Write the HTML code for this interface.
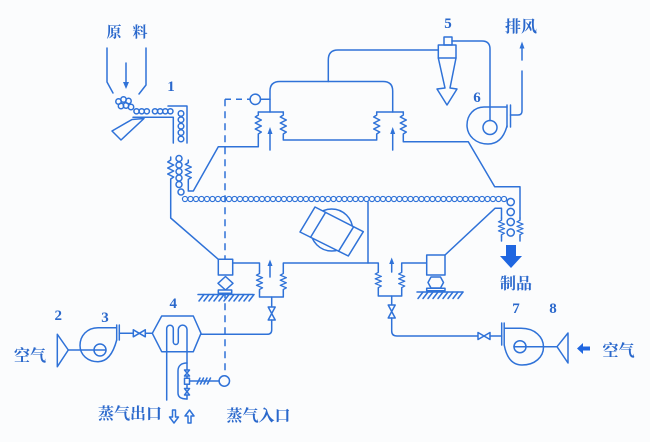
<!DOCTYPE html>
<html>
<head>
<meta charset="utf-8">
<style>
html,body{margin:0;padding:0;background:#fbfcfd;overflow:hidden;}
svg{display:block;}
.d{font-family:"Liberation Serif",serif;font-weight:bold;font-size:15px;fill:#2a68cc;}
.c{font-family:"Liberation Serif","Noto Serif CJK SC","Noto Sans CJK SC",serif;font-weight:bold;font-size:16px;fill:#2a68cc;}
</style>
</head>
<body>
<svg width="650" height="442" viewBox="0 0 650 442" xmlns="http://www.w3.org/2000/svg">
<defs>
<polyline id="sp" points="0,0 0,3 -3,5 3,8 -3,11 3,14 -3,17 3,20 0,22 0,25" fill="none"/>
</defs>
<rect width="650" height="442" fill="#fbfcfd"/>
<g stroke="#2f72d8" stroke-width="1.5" fill="none" stroke-linejoin="round" stroke-linecap="round">

<!-- hopper -->
<path d="M107,48 V82 L113,93"/>
<path d="M146,48 V85 L139,94"/>
<line x1="126" y1="63" x2="126" y2="83"/>
<!-- cluster -->
<circle cx="118.5" cy="101.5" r="2.7"/><circle cx="123.5" cy="99.5" r="2.7"/><circle cx="128.5" cy="101" r="2.7"/>
<circle cx="121" cy="106" r="2.7"/><circle cx="126" cy="105.5" r="2.7"/><circle cx="131" cy="107" r="2.7"/>
<circle cx="136.5" cy="111.3" r="2.6"/><circle cx="141.7" cy="111.3" r="2.6"/><circle cx="146.8" cy="111.3" r="2.6"/>
<circle cx="155" cy="111.3" r="2.6"/><circle cx="160.2" cy="111.3" r="2.6"/><circle cx="165.3" cy="111.3" r="2.6"/><circle cx="170.4" cy="111.3" r="2.6"/>
<circle cx="181" cy="113.5" r="2.8"/><circle cx="181" cy="119.8" r="2.8"/><circle cx="181" cy="126.2" r="2.8"/><circle cx="181" cy="132.6" r="2.8"/><circle cx="181" cy="139" r="2.8"/>
<path d="M168,106 H187 V143"/>
<path d="M133,117.3 H173.3 V143"/>
<path d="M112,131 L132,119.5 L144,118.5 L121,140 Z"/>

<!-- feeder second section -->
<use href="#sp" transform="translate(170.7,157)"/>
<use href="#sp" transform="translate(188.3,160) scale(1,0.88)"/>
<circle cx="179" cy="158.5" r="3"/><circle cx="179" cy="165" r="3"/><circle cx="179" cy="171.5" r="3"/><circle cx="179" cy="178" r="3"/><circle cx="179" cy="184.5" r="3"/><circle cx="181" cy="192" r="3"/>
<path d="M170.7,182 V218 L218.3,259.3"/>
<path d="M188.3,182 V191 H193.3 L218.3,146.7 H258.3 V137"/>

<!-- top spring groups -->
<use href="#sp" transform="translate(258.3,112)"/>
<use href="#sp" transform="translate(283.3,112)"/>
<use href="#sp" transform="translate(376.7,112)"/>
<use href="#sp" transform="translate(403.3,112)"/>
<path d="M258.3,112 H283.3"/>
<path d="M376.7,112 H403.3"/>
<path d="M283.3,137 V140 H376.7 V137"/>
<path d="M403.3,137 V141.7 H468.3 L494.7,186.7 H520 V218"/>
<use href="#sp" transform="translate(520,218) scale(1,0.76)"/>
<path d="M520,237 V241"/>

<!-- ducts -->
<path d="M270,112 V91 Q270,81.5 280,81.5 H383 Q392.7,81.5 392.7,91 V112"/>
<path d="M328.3,81.5 V60 Q328.3,50 338,50 H438.3"/>
<!-- cyclone -->
<rect x="444" y="37" width="8" height="8"/>
<rect x="438.3" y="45" width="17.7" height="13"/>
<path d="M438.3,58 L445,88 L437,89 L447,105 L457,89 L450,88 L456,58"/>
<path d="M452,41 H482 Q490,41 490,49 V120.5"/>
<!-- fan 6 -->
<circle cx="490" cy="127.5" r="7"/>
<path d="M507,107 H484 C474,107 467,115 467,125 C467,136 476,144 488,144 C498,144 504,137 507,126"/>
<line x1="507" y1="105" x2="507" y2="127"/>
<line x1="510.5" y1="105" x2="510.5" y2="127"/>
<path d="M510.5,115 H518 Q522,115 522,111 V71"/>
<line x1="522" y1="60" x2="522" y2="48"/>

<!-- dashed -->
<line x1="225" y1="99.3" x2="225" y2="375.5" stroke-dasharray="7,5" stroke-linecap="butt"/>
<line x1="225" y1="99.3" x2="250" y2="99.3" stroke-dasharray="6,5" stroke-linecap="butt"/>
<circle cx="255.3" cy="99.3" r="5.2"/>
<line x1="260.5" y1="99.3" x2="270" y2="99.3"/>

<!-- top arrows -->
<line x1="270" y1="150" x2="270" y2="133"/>
<line x1="392.7" y1="150" x2="392.7" y2="133"/>

<!-- conveyor -->
<g stroke-width="1.2">
<circle cx="185" cy="199" r="2.55"/><circle cx="190.5" cy="199" r="2.55"/><circle cx="196" cy="199" r="2.55"/><circle cx="201.5" cy="199" r="2.55"/><circle cx="207" cy="199" r="2.55"/><circle cx="212.5" cy="199" r="2.55"/><circle cx="218" cy="199" r="2.55"/><circle cx="223.5" cy="199" r="2.55"/><circle cx="229" cy="199" r="2.55"/><circle cx="234.5" cy="199" r="2.55"/>
<circle cx="240" cy="199" r="2.55"/><circle cx="245.5" cy="199" r="2.55"/><circle cx="251" cy="199" r="2.55"/><circle cx="256.5" cy="199" r="2.55"/><circle cx="262" cy="199" r="2.55"/><circle cx="267.5" cy="199" r="2.55"/><circle cx="273" cy="199" r="2.55"/><circle cx="278.5" cy="199" r="2.55"/><circle cx="284" cy="199" r="2.55"/><circle cx="289.5" cy="199" r="2.55"/>
<circle cx="295" cy="199" r="2.55"/><circle cx="300.5" cy="199" r="2.55"/><circle cx="306" cy="199" r="2.55"/><circle cx="311.5" cy="199" r="2.55"/><circle cx="317" cy="199" r="2.55"/><circle cx="322.5" cy="199" r="2.55"/><circle cx="328" cy="199" r="2.55"/><circle cx="333.5" cy="199" r="2.55"/><circle cx="339" cy="199" r="2.55"/><circle cx="344.5" cy="199" r="2.55"/>
<circle cx="350" cy="199" r="2.55"/><circle cx="355.5" cy="199" r="2.55"/><circle cx="361" cy="199" r="2.55"/><circle cx="366.5" cy="199" r="2.55"/><circle cx="372" cy="199" r="2.55"/><circle cx="377.5" cy="199" r="2.55"/><circle cx="383" cy="199" r="2.55"/><circle cx="388.5" cy="199" r="2.55"/><circle cx="394" cy="199" r="2.55"/><circle cx="399.5" cy="199" r="2.55"/>
<circle cx="405" cy="199" r="2.55"/><circle cx="410.5" cy="199" r="2.55"/><circle cx="416" cy="199" r="2.55"/><circle cx="421.5" cy="199" r="2.55"/><circle cx="427" cy="199" r="2.55"/><circle cx="432.5" cy="199" r="2.55"/><circle cx="438" cy="199" r="2.55"/><circle cx="443.5" cy="199" r="2.55"/><circle cx="449" cy="199" r="2.55"/><circle cx="454.5" cy="199" r="2.55"/>
<circle cx="460" cy="199" r="2.55"/><circle cx="465.5" cy="199" r="2.55"/><circle cx="471" cy="199" r="2.55"/><circle cx="476.5" cy="199" r="2.55"/><circle cx="482" cy="199" r="2.55"/><circle cx="487.5" cy="199" r="2.55"/><circle cx="493" cy="199" r="2.55"/><circle cx="498.5" cy="199" r="2.55"/><circle cx="504" cy="199" r="2.55"/>
</g>
<circle cx="510.7" cy="202" r="3.6"/><circle cx="510.7" cy="212" r="3.6"/><circle cx="510.7" cy="222" r="3.6"/><circle cx="510.7" cy="232.5" r="3.6"/>

<!-- frame vertical -->
<path d="M368,202 V263"/>

<!-- rotating drive -->
<circle cx="331.7" cy="230" r="21"/>
<polygon points="300,232 315,207 363.3,231.7 348.3,256" fill="#fbfcfd"/>
<line x1="325.6" y1="212.4" x2="310.6" y2="237.3"/>
<line x1="353.6" y1="226.8" x2="338.6" y2="251.2"/>

<!-- left vibrator support -->
<rect x="218.3" y="259.3" width="14.4" height="15.7" fill="#fbfcfd"/>
<polygon points="225.5,276.5 233,283.3 225.5,290 218,283.3" fill="#fbfcfd"/>
<rect x="218.3" y="290" width="13.4" height="3.3" fill="#fbfcfd"/>
<path d="M198,294.5 H253"/>
<path d="M204,294.5 L199,301 M209,294.5 L204,301 M214,294.5 L209,301 M219,294.5 L214,301 M224,294.5 L219,301 M229,294.5 L224,301 M234,294.5 L229,301 M239,294.5 L234,301 M244,294.5 L239,301 M249,294.5 L244,301 M254,294.5 L249,301"/>

<!-- bottom spring groups -->
<path d="M232.7,263 H259.5 V271"/>
<use href="#sp" transform="translate(259.5,271) scale(1,0.84)"/>
<path d="M259.5,292 V297 H283.3 V292"/>
<use href="#sp" transform="translate(283.3,271) scale(1,0.84)"/>
<path d="M283.3,271 V263 H378.3 V270"/>
<use href="#sp" transform="translate(378.3,270) scale(1,0.8)"/>
<path d="M378.3,290 V296 H401.7 V290"/>
<use href="#sp" transform="translate(401.7,270) scale(1,0.8)"/>
<path d="M401.7,270 V263 H426.7"/>
<line x1="270" y1="277" x2="270" y2="265"/>
<line x1="391.7" y1="272" x2="391.7" y2="263"/>

<!-- right vibrator support -->
<rect x="426.7" y="255" width="18.3" height="20" fill="#fbfcfd"/>
<polygon points="431,277 440.5,277 443.5,282.5 440.5,288 431,288 428,282.5" fill="#fbfcfd"/>
<rect x="426.7" y="288.3" width="18.3" height="2.4" fill="#fbfcfd"/>
<path d="M417,292 H463"/>
<path d="M423,292 L418,298.5 M428,292 L423,298.5 M433,292 L428,298.5 M438,292 L433,298.5 M443,292 L438,298.5 M448,292 L443,298.5 M453,292 L448,298.5 M458,292 L453,298.5 M463,292 L458,298.5"/>
<path d="M445,255 L495,208.3 H501.5 V218"/>
<use href="#sp" transform="translate(501.5,218) scale(1,0.76)"/>
<path d="M501.5,237 V241"/>

<!-- left valve line -->
<path d="M271.7,297 V307"/>
<path d="M268.2,307 H275.2 L268.2,320 H275.2 Z" fill="#fbfcfd"/>
<path d="M271.7,320 V330 Q271.7,334.3 267,334.3 H201"/>
<!-- right valve line -->
<path d="M391.7,296 V305"/>
<path d="M388.2,305 H395.2 L388.2,318 H395.2 Z" fill="#fbfcfd"/>
<path d="M391.7,318 V331 Q391.7,336 397,336 H478"/>
<path d="M478,332.5 V339.5 L490,332.5 V339.5 Z" fill="#fbfcfd"/>
<path d="M490,336 H501.7"/>
<line x1="501.7" y1="323" x2="501.7" y2="345"/>
<line x1="504.2" y1="323" x2="504.2" y2="345"/>

<!-- fan 7 -->
<circle cx="520" cy="346.7" r="6"/>
<path d="M504.2,328.3 H521 C535,328.3 543.5,337 543.5,347 C543.5,357 535,365 522,365 C514,365 507,360 504.2,345"/>
<line x1="514" y1="346.7" x2="557" y2="346.7"/>
<path d="M557,346.7 L568,333 V363 Z"/>

<!-- fan 3 / horn 2 -->
<path d="M68.3,350 L57.3,334.3 V366.7 Z"/>
<line x1="68.3" y1="350" x2="106" y2="350"/>
<circle cx="100" cy="350" r="6"/>
<path d="M116.7,327.7 H98 C87,327.7 80,336 80,345.5 C80,355 88,361.7 98,361.7 C107,361.7 113,354 116.7,340"/>
<line x1="116.7" y1="325" x2="116.7" y2="340"/>
<line x1="119.3" y1="325" x2="119.3" y2="340"/>
<path d="M119.3,333.3 H133.3"/>
<path d="M133.3,329.8 V336.8 L145.3,329.8 V336.8 Z" fill="#fbfcfd"/>
<path d="M145.3,333.3 H152.3"/>

<!-- heat exchanger 4 -->
<polygon points="152.3,333.3 161.7,316 193.3,316 201,333.3 193.3,351.7 161.7,351.7"/>
<path d="M166.7,400 V328.5 A3.3,3.3 0 0 1 173.3,328.5 V342 A2.5,2.5 0 0 0 178.3,342 V329.5 A4.35,4.35 0 0 1 187,329.5 V399"/>
<path d="M187,363 C181,363 178,366 178,371 V393 C178,397 181,399 187,399"/>
<path d="M184.5,370 H189.5 L184.5,376 H189.5 Z" fill="#fbfcfd"/>
<rect x="184.5" y="378.3" width="5" height="6" fill="#fbfcfd"/>
<path d="M184.5,388.5 H189.5 L184.5,395 H189.5 Z" fill="#fbfcfd"/>
<path d="M190,381 H219.1"/>
<path d="M197,384 L200,378 M200.5,384 L203.5,378 M204,384 L207,378 M207.5,384 L210.5,378"/>
<circle cx="224.3" cy="381" r="5.2"/>
<path d="M172.5,410 H175.5 V417 H178.5 L174,423 L169.5,417 H172.5 Z"/>
<path d="M188,423 H191 V416 H194 L189.5,410 L185,416 H188 Z"/>
</g>

<!-- filled arrowheads -->
<g fill="#2f72d8">
<polygon points="123,82 129,82 126,89"/>
<polygon points="267.5,134 272.5,134 270,127"/>
<polygon points="390.2,134 395.2,134 392.7,127"/>
<polygon points="519.5,48.5 524.5,48.5 522,41.5"/>
<polygon points="267.5,266 272.5,266 270,259.5"/>
<polygon points="389.2,264 394.2,264 391.7,257.5"/>
<polygon points="506,245 516,245 516,256 522,256 511,268 500,256 506,256" fill="#1f66e0"/>
<polygon points="577,348.5 583,343 583,346.5 590,346.5 590,350.5 583,350.5 583,354" fill="#1f66e0"/>
</g>

<!-- labels -->
<text class="c" x="114" y="37" text-anchor="middle" style="font-size:15px">原</text>
<text class="c" x="140" y="37" text-anchor="middle" style="font-size:15px">料</text>
<text class="c" x="521" y="32" text-anchor="middle">排风</text>
<text class="c" x="516" y="289" text-anchor="middle">制品</text>
<text class="c" x="618.5" y="356" text-anchor="middle">空气</text>
<text class="c" x="30" y="361" text-anchor="middle">空气</text>
<text class="c" x="130" y="419" text-anchor="middle">蒸气出口</text>
<text class="c" x="258.5" y="421" text-anchor="middle">蒸气入口</text>

<text class="d" x="171" y="91" text-anchor="middle">1</text>
<text class="d" x="58.3" y="320" text-anchor="middle">2</text>
<text class="d" x="105" y="322" text-anchor="middle">3</text>
<text class="d" x="173.3" y="308" text-anchor="middle">4</text>
<text class="d" x="448" y="28" text-anchor="middle">5</text>
<text class="d" x="477" y="102" text-anchor="middle">6</text>
<text class="d" x="516" y="313" text-anchor="middle">7</text>
<text class="d" x="553" y="313" text-anchor="middle">8</text>
</svg>
</body>
</html>
